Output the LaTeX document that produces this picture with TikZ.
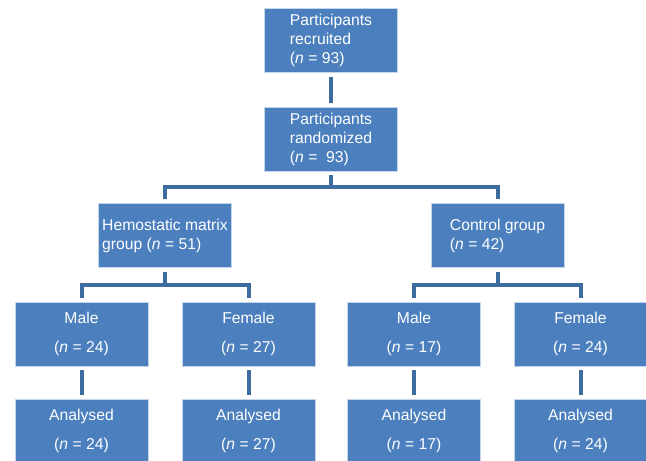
\documentclass[tikz,border=0pt]{standalone}
\usepackage{fontspec}
\setmainfont{Liberation Sans}
\usepackage{tikz}
\usetikzlibrary{positioning, calc}

\definecolor{boxblue}{RGB}{75,127,189}
\definecolor{lineblue}{RGB}{62,107,160}
\definecolor{rimblue}{RGB}{196,214,236}

\tikzset{
    box/.style={draw=rimblue, line width=0.8pt, fill=boxblue, text=white,
        minimum width=133pt, minimum height=64pt, inner sep=2pt,
        font=\fontsize{15.7}{19}\selectfont},
    link/.style={draw=lineblue, line width=4pt, shorten <=4pt, shorten >=4pt}
}

\begin{document}
\begin{tikzpicture}[x=1pt, y=1pt]
    \useasboundingbox (0,0) rectangle (646,461);

    % top column
    \node[box, align=left] (recruited) at (331,420.5)
        {Participants\\recruited\\(\textit{n} = 93)};
    \node[box, align=left] (randomized) at (331,322)
        {Participants\\randomized\\(\textit{n} = \ 93)};

    % groups
    \node[box, align=left] (hemostatic) at (165,225.5)
        {Hemostatic matrix\\group (\textit{n} = 51)};
    \node[box, align=left] (control) at (497.5,225.5)
        {Control group\\(\textit{n} = 42)};

    % sexes and analysed
    \foreach \nm/\x/\sex/\cnt in {
        maleH/81.5/Male/24,
        femaleH/248.5/Female/27,
        maleC/414/Male/17,
        femaleC/580.5/Female/24}
    {
        \node[box, align=center] (\nm) at (\x,127) {\sex\\[9.5pt](\textit{n} = \cnt)};
        \node[box, align=center] (\nm-an) at (\x,30) {Analysed\\[9.5pt](\textit{n} = \cnt)};
        \draw[link] (\nm.south) -- (\nm-an.north);
    }

    % connectors
    \draw[link] (recruited.south) -- (randomized.north);

    \coordinate (splitTop) at ($(randomized.south)!.5!(hemostatic.north)$);
    \coordinate (splitH) at ($(hemostatic.south)!.5!(maleH.north)$);
    \coordinate (splitC) at ($(control.south)!.5!(maleC.north)$);

    \draw[link, shorten >=0pt] (randomized.south) -- (randomized.south |- splitTop);
    \draw[link] (hemostatic.north) |- (splitTop) -| (control.north);

    \draw[link, shorten >=0pt] (hemostatic.south) -- (hemostatic.south |- splitH);
    \draw[link] (maleH.north) |- (splitH) -| (femaleH.north);

    \draw[link, shorten >=0pt] (control.south) -- (control.south |- splitC);
    \draw[link] (maleC.north) |- (splitC) -| (femaleC.north);
\end{tikzpicture}
\end{document}
